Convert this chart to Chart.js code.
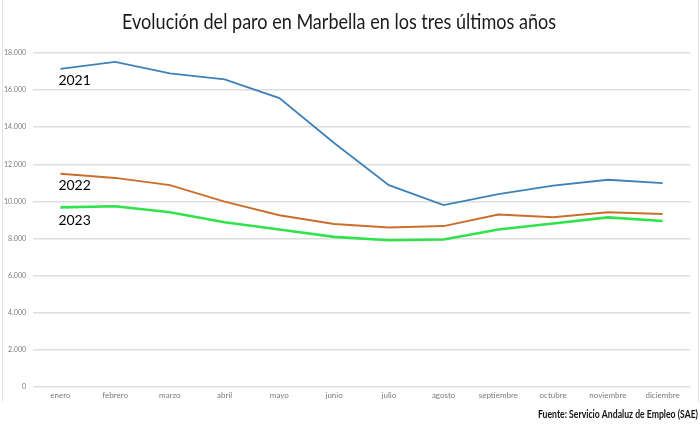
<!DOCTYPE html>
<html>
<head>
<meta charset="utf-8">
<script src="https://cdn.jsdelivr.net/npm/chart.js@4"></script>
<style>
  html, body { margin: 0; padding: 0; background: #ffffff; }
  #wrap { width: 700px; height: 441px; position: relative; }
</style>
</head>
<body>
<div id="wrap"><canvas id="c" width="700" height="441"></canvas></div>
<script>
const categories = ['enero','febrero','marzo','abril','mayo','junio','julio','agosto','septiembre','octubre','noviembre','diciembre'];
const seriesNames = ['2021','2022','2023'];
const values2021 = [17150, 17520, 16900, 16580, 15570, 13150, 10880, 9800, 10400, 10850, 11170, 10990];
const values2022 = [11490, 11270, 10880, 9990, 9260, 8780, 8600, 8670, 9290, 9150, 9420, 9330];
const values2023 = [9680, 9740, 9420, 8880, 8490, 8090, 7910, 7950, 8490, 8810, 9140, 8950];
const yTicks = [0, 2000, 4000, 6000, 8000, 10000, 12000, 14000, 16000, 18000];
const titleText = 'Evolución del paro en Marbella en los tres últimos años';
const sourceText = 'Fuente: Servicio Andaluz de Empleo (SAE)';

function fmt(v) {
  return String(v).replace(/\B(?=(\d{3})+(?!\d))/g, '.');
}

function fitText(ctx, text, x, y, targetW, font, align) {
  ctx.save();
  ctx.font = font;
  const w = ctx.measureText(text).width;
  const sx = targetW / w;
  ctx.translate(x, y);
  ctx.scale(sx, 1);
  ctx.textBaseline = 'middle';
  ctx.textAlign = 'left';
  ctx.fillText(text, 0, 0);
  ctx.restore();
}

const decorPlugin = {
  id: 'decor',
  beforeDraw(chart) {
    const ctx = chart.ctx;
    ctx.save();
    ctx.strokeStyle = '#e4e4e4';
    ctx.lineWidth = 1;
    ctx.beginPath();
    ctx.moveTo(2.5, 0); ctx.lineTo(2.5, 402);
    ctx.moveTo(698.5, 0); ctx.lineTo(698.5, 402);
    ctx.stroke();
    ctx.restore();
  },
  afterDraw(chart) {
    const ctx = chart.ctx;
    ctx.save();
    ctx.fillStyle = '#1a1a1a';
    fitText(ctx, titleText, 122, 22, 434, '21px Lato', 'left');
    ctx.fillStyle = '#111111';
    fitText(ctx, sourceText, 538, 414, 160, 'bold 11px Lato', 'left');
    // year labels placed under the first point of each series
    const xs = chart.scales.x, ys = chart.scales.y;
    ctx.fillStyle = '#000000';
    ctx.font = '14px Lato';
    ctx.textBaseline = 'middle';
    ctx.textAlign = 'left';
    const offsets = [12, 12, 13];
    chart.data.datasets.forEach((ds, i) => {
      const px = xs.getPixelForValue(0);
      const py = ys.getPixelForValue(ds.data[0]);
      ctx.fillText(ds.label, px - 2, py + offsets[i]);
    });
    ctx.restore();
  }
};

new Chart(document.getElementById('c'), {
  type: 'line',
  data: {
    labels: categories,
    datasets: [
      { label: seriesNames[0], data: values2021, borderColor: '#3f80b9', borderWidth: 1.8, pointRadius: 0, tension: 0, fill: false },
      { label: seriesNames[1], data: values2022, borderColor: '#cb6e2b', borderWidth: 2, pointRadius: 0, tension: 0, fill: false },
      { label: seriesNames[2], data: values2023, borderColor: '#30e34b', borderWidth: 2.6, pointRadius: 0, tension: 0, fill: false }
    ]
  },
  options: {
    responsive: false,
    animation: false,
    devicePixelRatio: 1,
    layout: { padding: { left: 0, right: 10, top: 53, bottom: 0 } },
    plugins: {
      legend: { display: false },
      title: { display: false },
      tooltip: { enabled: false }
    },
    scales: {
      x: {
        offset: true,
        grid: { display: false, drawTicks: false },
        border: { display: false },
        ticks: { color: '#7a7a7a', font: { family: 'Lato', size: 8 }, padding: 4, maxRotation: 0, autoSkip: false },
        afterFit(s) { s.height = 54; }
      },
      y: {
        min: 0,
        max: 18000,
        afterBuildTicks(s) { s.ticks = yTicks.map(v => ({ value: v })); },
        grid: { color: '#dedede', lineWidth: 1.5, drawTicks: false },
        border: { display: false },
        ticks: { color: '#7a7a7a', font: { family: 'Lato', size: 7 }, padding: 7, callback: v => fmt(v) },
        afterFit(s) { s.width = 33; }
      }
    }
  },
  plugins: [decorPlugin]
});
</script>
</body>
</html>
